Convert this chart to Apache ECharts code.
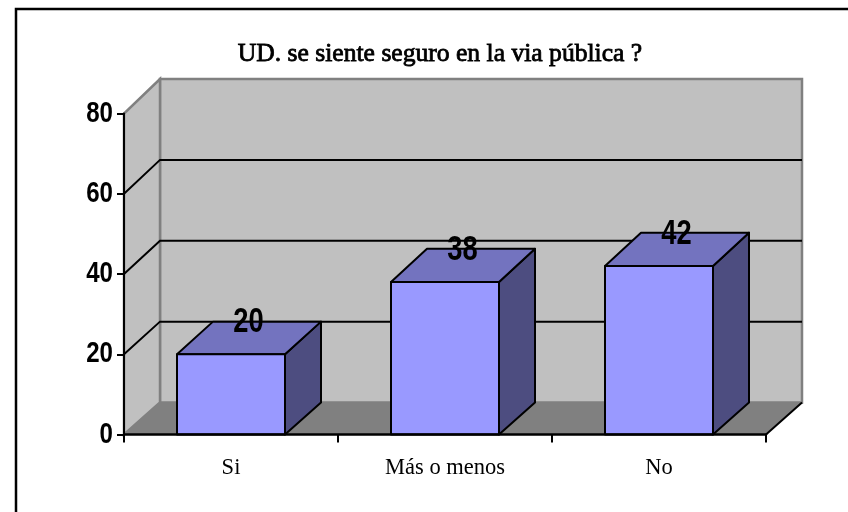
<!DOCTYPE html>
<html>
<head>
<meta charset="utf-8">
<style>
  html, body { margin: 0; padding: 0; background: #fff; overflow: hidden; }
  #main { width: 848px; height: 512px; }
</style>
<script src="https://cdn.jsdelivr.net/npm/echarts@6/dist/echarts.min.js"></script>
</head>
<body>
<div id="main"></div>
<script>
var titleText = 'UD. se siente seguro en la via pública ?';
var categories = ['Si', 'Más o menos', 'No'];
var values = [20, 38, 42];
var yTicks = [0, 20, 40, 60, 80];

var Chart = echarts.init(document.getElementById('main'));

// front plane of the fake 3D box, the back wall is shifted by this much
var depthX = 36;
function depthY(v) { return -32 - 2.5 * v / 80; }

var barWidth = 108;
var sansBold = '"Liberation Sans", Arial, sans-serif';

// walls, floor and the lines on the side wall and back wall
function renderWalls(params, api) {
  var band = api.size([1, 0])[0];
  var x0 = api.coord([0, 0])[0] - band / 2;
  var x1 = x0 + band * categories.length;
  var y0 = api.coord([0, 0])[1];
  var y80 = api.coord([0, 80])[1];
  var a = [x0, y0], b = [x1, y0], c = [x0, y80];
  var bl = [x0 + depthX, y0 + depthY(0)];
  var br = [x1 + depthX, y0 + depthY(0)];
  var tl = [x0 + depthX, y80 + depthY(80)];
  var tr = [x1 + depthX, y80 + depthY(80)];
  var children = [
    { type: 'polygon', shape: { points: [bl, br, tr, tl] },
      style: { fill: '#c0c0c0', stroke: '#808080', lineWidth: 2.5 } },
    { type: 'polygon', shape: { points: [a, bl, tl, c] },
      style: { fill: '#c0c0c0', stroke: '#808080', lineWidth: 2.5 } },
    { type: 'polygon', shape: { points: [a, b, br, bl] },
      style: { fill: '#808080', stroke: '#808080', lineWidth: 1 } },
    // floor edge at the right goes black like the axis
    { type: 'line', shape: { x1: b[0], y1: b[1], x2: br[0], y2: br[1] },
      style: { stroke: '#000', lineWidth: 2 } }
  ];
  yTicks.forEach(function (t) {
    if (t === 0 || t === 80) return;
    var fy = api.coord([0, t])[1];
    var gy = fy + depthY(t);
    children.push({ type: 'polyline', shape: { points: [[x0, fy], [x0 + depthX, gy], [x1 + depthX, gy]] },
      style: { fill: 'none', stroke: '#000', lineWidth: 2 } });
  });
  return { type: 'group', children: children };
}

function renderBar(params, api) {
  var i = api.value(0);
  var v = api.value(1);
  var c = api.coord([i, v]);
  var z = api.coord([i, 0]);
  var x0 = Math.round(c[0] - barWidth / 2);
  var x1 = x0 + barWidth;
  var yt = c[1], yb = z[1];
  var dt = depthY(v), db = depthY(0);
  var line = { stroke: '#000', lineWidth: 2, lineJoin: 'round' };
  return { type: 'group', children: [
    { type: 'polygon', shape: { points: [[x1, yt], [x1 + depthX, yt + dt], [x1 + depthX, yb + db], [x1, yb]] },
      style: Object.assign({ fill: '#4d4d80' }, line) },
    { type: 'polygon', shape: { points: [[x0, yt], [x0 + depthX, yt + dt], [x1 + depthX, yt + dt], [x1, yt]] },
      style: Object.assign({ fill: '#7373bf' }, line) },
    { type: 'rect', shape: { x: x0, y: yt, width: barWidth, height: yb - yt },
      style: Object.assign({ fill: '#9999ff' }, line) },
    { type: 'text', x: c[0] + 17.5, y: yt - 32, scaleX: 0.78, z2: 10,
      style: { text: String(v), fill: '#000', align: 'center', verticalAlign: 'middle',
        font: 'bold 35px ' + sansBold } }
  ] };
}

// narrow bold tick labels, the installed fonts have no condensed Arial
function renderTick(params, api) {
  var v = api.value(1);
  var p = api.coord([0, v]);
  return { type: 'text', x: 113, y: p[1], scaleX: 0.83,
    style: { text: String(v), fill: '#000', align: 'right', verticalAlign: 'middle',
      font: 'bold 29px ' + sansBold } };
}

var option = {
  animation: false,
  backgroundColor: '#fff',
  title: {
    text: titleText,
    left: 435,
    top: 36,
    textAlign: 'center',
    textStyle: { fontFamily: '"Liberation Serif", serif', fontWeight: 'normal', fontSize: 25.6, color: '#000',
      textBorderColor: '#000', textBorderWidth: 0.8 }
  },
  grid: { left: 124, top: 113.5, width: 642, height: 321, containLabel: false },
  xAxis: {
    type: 'category',
    data: categories,
    boundaryGap: true,
    z: 5,
    axisLine: { show: true, onZero: false, lineStyle: { color: '#000', width: 2.5 } },
    axisTick: { show: true, alignWithLabel: false, length: 8, lineStyle: { color: '#000', width: 2 } },
    axisLabel: { fontFamily: '"Liberation Serif", serif', fontSize: 22.5, color: '#000', margin: 22 }
  },
  yAxis: {
    type: 'value',
    min: 0,
    max: 80,
    interval: 20,
    z: 5,
    axisLine: { show: true, lineStyle: { color: '#000', width: 2 } },
    axisTick: { show: true, length: 7, lineStyle: { color: '#000', width: 2 } },
    axisLabel: { show: false },
    splitLine: { show: false }
  },
  graphic: [
    { type: 'polyline', shape: { points: [[16, 512], [16, 9], [848, 9]] }, z: -1,
      style: { fill: 'none', stroke: '#000', lineWidth: 2.5 } }
  ],
  series: [
    { type: 'custom', renderItem: renderWalls, data: [[0, 0]], z: 1, silent: true, clip: false },
    { type: 'custom', renderItem: renderTick, silent: true, clip: false, z: 2,
      data: yTicks.map(function (t) { return [0, t]; }) },
    { type: 'custom', renderItem: renderBar, encode: { x: 0, y: 1 },
      data: values.map(function (v, i) { return [i, v]; }), z: 3, clip: false }
  ]
};

Chart.setOption(option);
</script>
</body>
</html>
